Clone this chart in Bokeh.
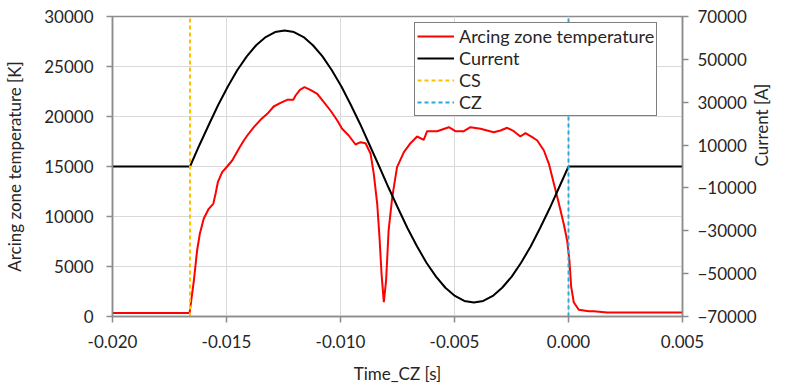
import math
from bokeh.plotting import figure
from bokeh.models import Range1d, LinearAxis, FixedTicker, PrintfTickFormatter, Legend, LegendItem
from bokeh.embed import file_html
from bokeh.resources import INLINE

# ---- data ----
temp_time = [-0.0200, -0.01662, -0.01643, -0.01629, -0.01617, -0.01600, -0.01578, -0.01558,
             -0.01548, -0.01538, -0.01519, -0.01497, -0.01475, -0.01446, -0.01424, -0.01409,
             -0.01380, -0.01351, -0.01321, -0.01293, -0.01263, -0.01234, -0.01207, -0.01197,
             -0.01178, -0.01158, -0.01132, -0.01102, -0.01073, -0.01044, -0.01014, -0.00993,
             -0.00964, -0.00934, -0.00912, -0.00890, -0.00868, -0.00854, -0.00839, -0.00829,
             -0.00820, -0.00810, -0.00800, -0.00789, -0.00773, -0.00752, -0.00722, -0.00693,
             -0.00664, -0.00635, -0.00620, -0.00576, -0.00525, -0.00496, -0.00459, -0.00430,
             -0.00386, -0.00328, -0.00298, -0.00269, -0.00240, -0.00211, -0.00189, -0.00159,
             -0.00137, -0.00108, -0.00086, -0.00064, -0.00042, -0.00021, -0.00006, 0.00004,
             0.00012, 0.00023, 0.00045, 0.00089, 0.00111, 0.00170, 0.00257, 0.00500]
temp_K = [350, 350, 3600, 6600, 8270, 9770, 10770, 11270,
          12270, 13430, 14430, 15000, 15600, 16770, 17600, 18100,
          18930, 19670, 20270, 21000, 21370, 21670, 21670, 22100,
          22670, 22930, 22670, 22270, 21430, 20600, 19600, 18770,
          18100, 17200, 17430, 17330, 16270, 14270, 11270, 7930,
          4270, 1430, 3600, 8600, 11930, 14930, 16430, 17330,
          18000, 17670, 18530, 18530, 18930, 18530, 18530, 18930,
          18770, 18430, 18600, 18870, 18530, 18000, 18330, 17930,
          17600, 16600, 15270, 13270, 11270, 9270, 7600, 5600,
          2930, 1430, 670, 530, 530, 400, 400, 400]

cur_time = [-0.0200, -0.01660, -0.01619, -0.01577, -0.01536, -0.01494, -0.01453, -0.01411,
            -0.01370, -0.01328, -0.01287, -0.01245, -0.01204, -0.01162, -0.01121, -0.01079,
            -0.01038, -0.00996, -0.00955, -0.00913, -0.00872, -0.00830, -0.00789, -0.00747,
            -0.00706, -0.00664, -0.00623, -0.00581, -0.00540, -0.00498, -0.00457, -0.00415,
            -0.00374, -0.00332, -0.00291, -0.00249, -0.00208, -0.00166, -0.00125, -0.00083,
            -0.00042, 0.00000, 0.00500]
cur_A = [0, 0, 9930, 19620, 28830, 37330, 44900, 51370,
         56580, 60390, 62720, 63500, 62720, 60390, 56580, 51370,
         44900, 37330, 28830, 19620, 9930, 0, -9930, -19620,
         -28830, -37330, -44900, -51370, -56580, -60390, -62720, -63500,
         -62720, -60390, -56580, -51370, -44900, -37330, -28830, -19620,
         -9930, 0, 0]

cs_time = [-0.0166, -0.0166]
cs_temp = [0, 30000]
cz_time = [0.0, 0.0]
cz_temp = [0, 30000]

x_ticks = [-0.020, -0.015, -0.010, -0.005, 0.0, 0.005]
y_ticks = [0, 5000, 10000, 15000, 20000, 25000, 30000]
y2_ticks = [-70000, -50000, -30000, -10000, 10000, 30000, 50000, 70000]

series_names = ["Arcing zone temperature", "Current", "CS", "CZ"]

# ---- styling ----
FONT = "Lato"
TXT = "#262626"
AX = "#8c8c8c"
GRID = "#d9d9d9"

p = figure(width=786, height=387, output_backend="svg", toolbar_location=None,
           x_range=Range1d(-0.020, 0.005), y_range=Range1d(0, 30000),
           min_border_left=112, min_border_right=104, min_border_top=16, min_border_bottom=71)
p.extra_y_ranges = {"cur": Range1d(-70000, 70000)}
p.outline_line_color = AX
p.outline_line_width = 1.5
p.background_fill_color = "white"
p.border_fill_color = "white"

p.xaxis.ticker = FixedTicker(ticks=x_ticks)
p.xaxis.formatter = PrintfTickFormatter(format="%.3f")
p.yaxis.ticker = FixedTicker(ticks=y_ticks)
p.xaxis.axis_label = "Time_CZ [s]"
p.yaxis.axis_label = "Arcing zone temperature [K]"

ax2 = LinearAxis(y_range_name="cur", ticker=FixedTicker(ticks=y2_ticks), axis_label="Current [A]")
p.add_layout(ax2, "right")
if "axis_label_orientation" in ax2.properties():
    ax2.axis_label_orientation = math.pi / 2

for ax in [p.xaxis[0], p.yaxis[0], ax2]:
    ax.axis_line_color = AX
    ax.axis_line_width = 1.5
    ax.major_tick_line_color = AX
    ax.major_tick_line_width = 1.5
    ax.major_tick_out = 6
    ax.major_tick_in = 0
    ax.minor_tick_line_color = None
    ax.major_label_text_font = FONT
    ax.major_label_text_font_size = "17px"
    ax.major_label_text_color = TXT
    ax.axis_label_text_font = FONT
    ax.axis_label_text_font_size = "17px"
    ax.axis_label_text_font_style = "normal"
    ax.axis_label_text_color = TXT

p.xaxis.major_label_standoff = 12
p.xaxis.axis_label_standoff = 12
p.yaxis.major_label_standoff = 13
p.yaxis.axis_label_standoff = 16
ax2.major_label_standoff = 9
ax2.axis_label_standoff = 2

p.xgrid.grid_line_color = GRID
p.ygrid.grid_line_color = GRID
p.xgrid.ticker = FixedTicker(ticks=x_ticks)
p.ygrid.ticker = FixedTicker(ticks=y_ticks)

r_temp = p.line(temp_time, temp_K, line_color="#FF0000", line_width=2)
r_cur = p.line(cur_time, cur_A, line_color="black", line_width=2, y_range_name="cur")
r_cs = p.line(cs_time, cs_temp, line_color="#FFC000", line_width=2, line_dash="4 3")
r_cz = p.line(cz_time, cz_temp, line_color="#29A9DA", line_width=2, line_dash="4 3")

legend = Legend(items=[LegendItem(label=n, renderers=[r]) for n, r in
                       zip(series_names, [r_temp, r_cur, r_cs, r_cz])],
                location=(302, 200))
legend.border_line_color = "black"
legend.border_line_width = 1
legend.background_fill_color = "white"
legend.background_fill_alpha = 1
legend.label_text_font = FONT
legend.label_text_font_size = "18px"
legend.label_text_color = TXT
legend.glyph_width = 37
legend.glyph_height = 18
legend.label_height = 18
legend.label_standoff = 5
legend.spacing = 0
legend.padding = 2
legend.margin = 0
p.add_layout(legend, "center")

open("out.html", "w").write(file_html(p, INLINE))
